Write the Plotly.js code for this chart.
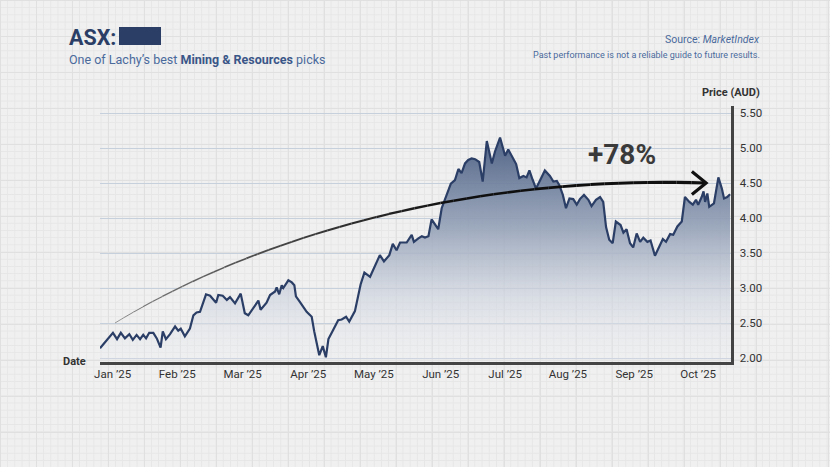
<!DOCTYPE html>
<html>
<head>
<meta charset="utf-8">
<script src="https://cdn.plot.ly/plotly-3.0.1.min.js"></script>
<style>
html,body{margin:0;padding:0;}
body{
  width:830px;height:467px;overflow:hidden;
  background-color:#f0f0f0;
  background-image:
    linear-gradient(#e0e0e0 1px, transparent 1px),
    linear-gradient(90deg, #e0e0e0 1px, transparent 1px),
    linear-gradient(#e6e6e6 1px, transparent 1px),
    linear-gradient(90deg, #e6e6e6 1px, transparent 1px);
  background-size:36px 36px,36px 36px,7.2px 7.2px,7.2px 7.2px;
}
#chart{width:830px;height:467px;}
</style>
</head>
<body>
<div id="chart"></div>
<script>
// ---------- data ----------
const monthLabels = ["Jan ’25","Feb ’25","Mar ’25","Apr ’25","May ’25","Jun ’25","Jul ’25","Aug ’25","Sep ’25","Oct ’25"];
const monthTickDays = [4.0, 24.5, 45.2, 66.0, 86.8, 108.0, 128.4, 148.3, 169.3, 189.6];
const priceTicks = [2.0, 2.5, 3.0, 3.5, 4.0, 4.5, 5.0, 5.5];

const tradingDay = [
  0.0, 4.1, 5.4, 6.6, 7.9, 9.3, 10.4, 11.6, 12.7, 13.7, 14.6, 15.6, 16.9, 18.0, 19.2, 19.9,
  20.9, 22.2, 23.8, 24.8, 25.6, 26.9, 28.5, 29.6, 30.6, 31.7, 33.6, 34.9, 36.8, 37.5, 38.9,
  40.2, 41.2, 42.8, 44.6, 45.9, 47.0, 48.6, 50.2, 50.9, 52.8, 53.9, 55.5, 56.0, 56.8, 57.6,
  58.1, 59.7, 60.8, 61.6, 62.1, 63.4, 65.5, 67.1, 67.9, 69.5, 70.6, 71.6, 72.4, 73.9, 75.5,
  76.6, 78.0, 79.0, 80.8, 82.6, 83.8, 85.6, 87.5, 88.7, 90.0, 91.7, 92.8, 94.0, 95.1, 97.2,
  98.8, 99.5, 100.9, 102.0, 103.0, 104.1, 105.1, 106.2, 107.2, 108.3, 109.9, 111.2, 112.5,
  113.6, 114.6, 115.7, 116.7, 117.8, 118.9, 120.2, 121.3, 122.6, 124.2, 125.2, 126.8, 128.4,
  129.4, 130.5, 131.9, 132.9, 134.2, 135.2, 136.1, 137.1, 138.2, 139.5, 141.0, 142.6, 143.7,
  144.8, 145.6, 146.7, 147.7, 148.8, 150.0, 151.1, 152.1, 153.4, 154.8, 155.8, 157.2, 158.5,
  159.5, 160.4, 161.4, 162.5, 163.5, 165.0, 165.9, 166.9, 168.0, 169.0, 170.1, 171.2, 172.2,
  173.5, 174.5, 175.9, 177.0, 178.4, 179.4, 180.7, 181.7, 183.0, 184.4, 185.4, 186.8, 187.9,
  188.9, 189.6, 190.7, 191.3, 191.8, 192.5, 193.1, 194.6, 196.0, 197.1, 197.8, 198.8, 199.7
];
const priceAUD = [
  2.14, 2.36, 2.27, 2.36, 2.28, 2.34, 2.26, 2.33, 2.27, 2.33, 2.28, 2.36, 2.36, 2.28, 2.15, 2.38,
  2.27, 2.34, 2.45, 2.39, 2.42, 2.31, 2.42, 2.61, 2.65, 2.66, 2.91, 2.89, 2.79, 2.90, 2.89,
  2.83, 2.87, 2.78, 2.92, 2.64, 2.61, 2.71, 2.82, 2.69, 2.79, 2.90, 2.95, 3.01, 2.91, 3.04,
  3.00, 3.11, 3.08, 3.04, 2.88, 2.80, 2.66, 2.59, 2.38, 2.04, 2.17, 2.01, 2.27, 2.40, 2.54,
  2.55, 2.59, 2.52, 2.67, 3.05, 3.22, 3.16, 3.36, 3.47, 3.38, 3.47, 3.63, 3.54, 3.65, 3.65,
  3.76, 3.66, 3.71, 3.74, 3.72, 3.74, 3.98, 3.91, 3.84, 4.14, 4.33, 4.49, 4.54,
  4.70, 4.64, 4.78, 4.83, 4.85, 4.84, 4.80, 4.52, 5.10, 4.78, 4.95, 5.15, 4.89,
  4.98, 4.88, 4.77, 4.57, 4.60, 4.58, 4.68, 4.55, 4.42, 4.54, 4.68, 4.60, 4.52,
  4.53, 4.47, 4.33, 4.14, 4.28, 4.27, 4.19, 4.27, 4.33, 4.26, 4.17, 4.26, 4.30,
  4.23, 3.87, 3.69, 3.64, 3.95, 3.90, 3.79, 3.84, 3.64, 3.58, 3.78, 3.66, 3.72,
  3.66, 3.68, 3.46, 3.57, 3.70, 3.66, 3.77, 3.76, 3.88, 3.95, 4.30, 4.23, 4.19,
  4.26, 4.19, 4.30, 4.38, 4.23, 4.35, 4.16, 4.21, 4.58, 4.42, 4.28, 4.30, 4.34
];

// annotation arrow (cubic curve in data units) and label
const arrowStart = {day: 4.75, price: 2.50};
const arrowCtrl1 = {day: 50.7, price: 3.76};
const arrowCtrl2 = {day: 117.3, price: 4.61};
const arrowEnd   = {day: 192.1, price: 4.50};
const arrowHeadBack = 4.5;     // days
const arrowHeadSpread = 0.165; // price units
const gainLabel = "+78%";

// ---------- layout helpers ----------
const PL = 100, PR = 731, PT = 106, PB = 362;
const fx = px => (px - PL) / (PR - PL);
const fy = py => (PB - py) / (PB - PT);
const FONT = 'Roboto, "Noto Sans", "DejaVu Sans", sans-serif';
const NAVY = '#2b3e66';

function bez(t, a, b, c, d) {
  const u = 1 - t;
  return u*u*u*a + 3*u*u*t*b + 3*u*t*t*c + t*t*t*d;
}

const shapes = [];
const NSEG = 48;
for (let i = 0; i < NSEG; i++) {
  const t0 = i / NSEG, t1 = (i + 1) / NSEG, tm = (t0 + t1) / 2;
  const g = Math.round(130 - 115 * Math.min(1, tm * 1.6));
  shapes.push({
    type: 'line', xref: 'x', yref: 'y', layer: 'above',
    x0: bez(t0, arrowStart.day, arrowCtrl1.day, arrowCtrl2.day, arrowEnd.day),
    y0: bez(t0, arrowStart.price, arrowCtrl1.price, arrowCtrl2.price, arrowEnd.price),
    x1: bez(t1, arrowStart.day, arrowCtrl1.day, arrowCtrl2.day, arrowEnd.day),
    y1: bez(t1, arrowStart.price, arrowCtrl1.price, arrowCtrl2.price, arrowEnd.price),
    line: {color: `rgb(${g},${g},${g})`, width: 0.7 + 2.5 * Math.pow(tm, 0.7)}
  });
}
shapes.push({
  type: 'path', xref: 'x', yref: 'y', layer: 'above',
  path: `M ${arrowEnd.day - arrowHeadBack},${arrowEnd.price + arrowHeadSpread} L ${arrowEnd.day},${arrowEnd.price} L ${arrowEnd.day - arrowHeadBack},${arrowEnd.price - arrowHeadSpread}`,
  line: {color: '#111', width: 3.2}
});
// redacted ticker block
shapes.push({
  type: 'rect', xref: 'paper', yref: 'paper',
  x0: fx(119), x1: fx(161), y0: fy(45), y1: fy(27),
  fillcolor: NAVY, line: {width: 0}
});

const annotations = [
  {text: '<b>ASX:</b>', x: fx(67), y: fy(37), xanchor: 'left', yanchor: 'middle',
   font: {family: FONT, size: 21.5, color: NAVY}},
  {text: 'One of Lachy’s best <b><span style="color:#3a5688">Mining &amp; Resources</span></b> picks',
   x: fx(67), y: fy(59.5), xanchor: 'left', yanchor: 'middle',
   font: {family: FONT, size: 12.5, color: '#4a6a9c'}},
  {text: 'Source: <i>MarketIndex</i>', x: fx(762), y: fy(39.5), xanchor: 'right', yanchor: 'middle',
   font: {family: FONT, size: 10.5, color: '#4a6a9c'}},
  {text: 'Past performance is not a reliable guide to future results.', x: fx(762), y: fy(54.5),
   xanchor: 'right', yanchor: 'middle', font: {family: FONT, size: 9, color: '#4a6a9c'}},
  {text: '<b>Price (AUD)</b>', x: fx(762), y: fy(92.5), xanchor: 'right', yanchor: 'middle',
   font: {family: FONT, size: 11, color: '#333'}},
  {text: '<b>Date</b>', x: fx(88), y: fy(361.5), xanchor: 'right', yanchor: 'middle',
   font: {family: FONT, size: 11, color: '#333'}},
  {text: '<b>' + gainLabel + '</b>', x: fx(621.5), y: fy(154.5), xanchor: 'center', yanchor: 'middle',
   font: {family: FONT, size: 28, color: '#3a3a3a'}}
].map(a => Object.assign({xref: 'paper', yref: 'paper', showarrow: false}, a));

const trace = {
  type: 'scatter', mode: 'lines',
  x: tradingDay, y: priceAUD,
  line: {color: NAVY, width: 2.2, shape: 'linear'},
  fill: 'tozeroy',
  fillgradient: {
    type: 'vertical', start: 1.94, stop: 5.15,
    colorscale: [
      [0, 'rgba(236,238,242,0.2)'],
      [0.3, 'rgba(205,211,222,0.7)'],
      [0.6, 'rgba(148,161,183,0.9)'],
      [1, 'rgba(76,96,132,0.97)']
    ]
  },
  hoverinfo: 'skip'
};

const layout = {
  width: 830, height: 467,
  margin: {l: PL, r: 830 - PR, t: PT, b: 467 - PB, pad: 0},
  paper_bgcolor: 'rgba(0,0,0,0)', plot_bgcolor: 'rgba(0,0,0,0)',
  showlegend: false,
  font: {family: FONT, color: '#333'},
  xaxis: {
    range: [0, 200], showgrid: false, zeroline: false,
    showline: true, linecolor: '#444', linewidth: 2.5,
    tickmode: 'array', tickvals: monthTickDays, ticktext: monthLabels,
    ticks: '', tickfont: {family: FONT, size: 11.5, color: '#333'},
    fixedrange: true
  },
  yaxis: {
    side: 'right', range: [1.943, 5.6], zeroline: false,
    showline: true, linecolor: '#444', linewidth: 2.5,
    showgrid: true, gridcolor: '#c6cfdc', gridwidth: 1,
    tickmode: 'array', tickvals: priceTicks, ticktext: priceTicks.map(v => v.toFixed(2)),
    ticks: '', tickfont: {family: FONT, size: 11.5, color: '#333'},
    ticklabelstandoff: 4,
    fixedrange: true
  },
  shapes: shapes,
  annotations: annotations
};

Plotly.newPlot('chart', [trace], layout, {displayModeBar: false, staticPlot: true});
</script>
</body>
</html>
